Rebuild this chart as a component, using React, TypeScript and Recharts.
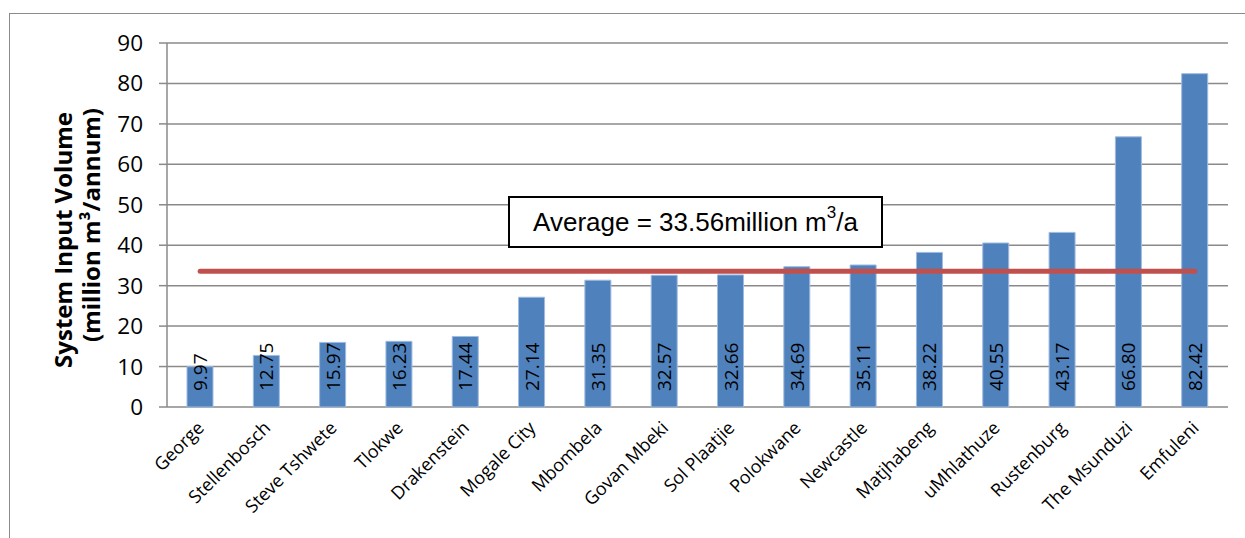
import React from 'react';
import { ComposedChart, Bar, Line, XAxis, YAxis, CartesianGrid, LabelList } from 'recharts';

const categories = [
  'George', 'Stellenbosch', 'Steve Tshwete', 'Tlokwe', 'Drakenstein', 'Mogale City',
  'Mbombela', 'Govan Mbeki', 'Sol Plaatjie', 'Polokwane', 'Newcastle', 'Matjhabeng',
  'uMhlathuze', 'Rustenburg', 'The Msunduzi', 'Emfuleni',
];
const inputVolume = [
  9.97, 12.75, 15.97, 16.23, 17.44, 27.14, 31.35, 32.57,
  32.66, 34.69, 35.11, 38.22, 40.55, 43.17, 66.8, 82.42,
];
const averageVolume = 33.56;
const yTicks = [0, 10, 20, 30, 40, 50, 60, 70, 80, 90];
const edgeTicks = [0, 1, 2, 3, 4, 5, 6, 7, 8, 9, 10, 11, 12, 13, 14, 15, 16];

const data = categories.map((name, i) => ({
  name,
  volume: inputVolume[i],
  average: averageVolume,
}));

const FONT = '"Open Sans", sans-serif';
const GREY = '#8a8a8a';

const CategoryTick = (props: any) => {
  const { x, y, payload } = props;
  const ax = x + 5;
  const ay = y + 22;
  return (
    <text
      x={ax}
      y={ay}
      transform={`rotate(-45, ${ax}, ${ay})`}
      textAnchor="end"
      fontSize={18}
      fontFamily={FONT}
      fill="#000"
    >
      {payload.value}
    </text>
  );
};

const ValueLabel = (props: any) => {
  const { x, y, width, height, value } = props;
  const cx = x + width / 2;
  const cy = y + height - 16;
  return (
    <text
      x={cx}
      y={cy}
      transform={`rotate(-90, ${cx}, ${cy})`}
      textAnchor="start"
      dominantBaseline="central"
      fontSize={19}
      fontFamily={FONT}
      fill="#000"
    >
      {Number(value).toFixed(2)}
    </text>
  );
};

export default function App() {
  return (
    <div
      style={{
        position: 'absolute',
        left: 0,
        top: 0,
        width: 1245,
        height: 538,
        overflow: 'hidden',
        background: '#fff',
      }}
    >
      {/* chart frame, only top and left edges are inside the picture */}
      <div
        style={{
          position: 'absolute',
          left: 9,
          top: 13,
          width: 1300,
          height: 600,
          border: `1.5px solid ${GREY}`,
        }}
      />
      <div style={{ position: 'absolute', left: 0, top: 0 }}>
        <ComposedChart width={1245} height={538} data={data} margin={{ top: 43, right: 17, bottom: 0, left: 0 }}>
          <CartesianGrid vertical={false} stroke={GREY} strokeWidth={1.5} />
          <XAxis
            xAxisId="edge"
            type="number"
            domain={[0, 16]}
            ticks={edgeTicks}
            allowDataOverflow
            height={0}
            tickSize={7}
            tick={() => <g />}
            axisLine={{ stroke: GREY, strokeWidth: 1.5 }}
            tickLine={{ stroke: GREY, strokeWidth: 1.5 }}
          />
          <XAxis
            dataKey="name"
            interval={0}
            height={131}
            tickSize={0}
            tickMargin={0}
            tickLine={false}
            axisLine={false}
            tick={<CategoryTick />}
          />
          <YAxis
            domain={[0, 90]}
            ticks={yTicks}
            width={167}
            tickSize={8}
            tickMargin={16}
            axisLine={{ stroke: GREY, strokeWidth: 1.5 }}
            tickLine={{ stroke: GREY, strokeWidth: 1.5 }}
            tick={{ fontSize: 22.5, fill: '#000', fontFamily: FONT }}
          />
          <YAxis
            yAxisId="frame"
            orientation="right"
            domain={[0, 90]}
            width={0}
            tick={false}
            tickLine={false}
            axisLine={{ stroke: GREY, strokeWidth: 1.5 }}
          />
          <Bar dataKey="volume" fill="#4F81BD" stroke="#9fbbe0" strokeWidth={1} barSize={26} isAnimationActive={false}>
            <LabelList dataKey="volume" content={<ValueLabel />} />
          </Bar>
          <Line
            dataKey="average"
            stroke="#C0504D"
            strokeWidth={5}
            strokeLinecap="round"
            dot={false}
            activeDot={false}
            isAnimationActive={false}
          />
        </ComposedChart>
      </div>
      {/* y axis title */}
      <svg style={{ position: 'absolute', left: 0, top: 0 }} width={130} height={538}>
        <text
          x={62}
          y={240}
          transform="rotate(-90, 62, 240)"
          textAnchor="middle"
          dominantBaseline="central"
          fontSize={24}
          fontWeight="bold"
          fontFamily={FONT}
          fill="#000"
        >
          System Input Volume
        </text>
        <text
          x={90}
          y={225}
          transform="rotate(-90, 90, 225)"
          textAnchor="middle"
          dominantBaseline="central"
          fontSize={24}
          fontWeight="bold"
          fontFamily={FONT}
          fill="#000"
        >
          (million m³/annum)
        </text>
      </svg>
      {/* average annotation */}
      <div
        style={{
          position: 'absolute',
          left: 508,
          top: 196,
          width: 375,
          height: 52,
          boxSizing: 'border-box',
          border: '2px solid #000',
          background: '#fff',
          display: 'flex',
          alignItems: 'center',
          justifyContent: 'center',
          fontFamily: '"Liberation Sans", Arial, sans-serif',
          fontSize: 26,
          color: '#000',
          whiteSpace: 'nowrap',
        }}
      >
        <span>
          Average = 33.56million m<sup style={{ fontSize: 17, verticalAlign: 'top', position: 'relative', top: -4 }}>3</sup>/a
        </span>
      </div>
    </div>
  );
}
